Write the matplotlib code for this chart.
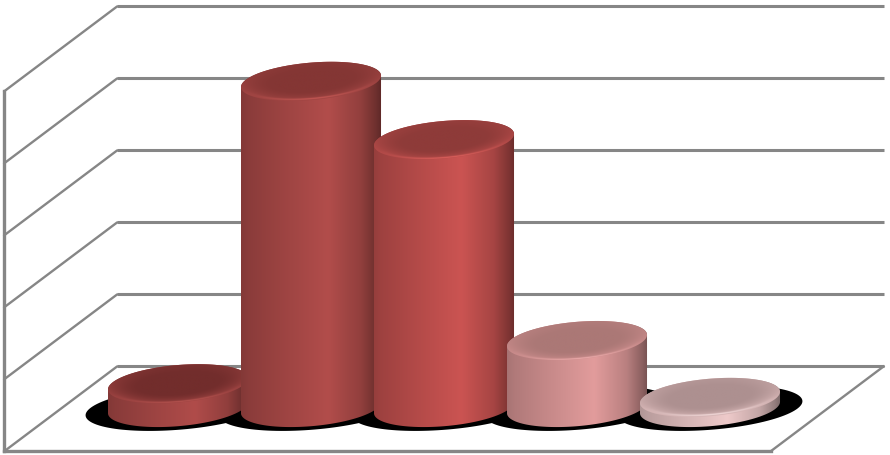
import numpy as np
import matplotlib
matplotlib.use('Agg')
import matplotlib.pyplot as plt
from matplotlib.path import Path
from matplotlib.patches import PathPatch
from matplotlib.colors import to_rgb

# chart data
categories = [0, 1, 2, 3, 4]
values = [0.33, 4.53, 3.72, 0.93, 0.14]
gridlevels = [0, 1, 2, 3, 4, 5]

# colours of each bar: side peak, top face, rim highlight
side_colors = ['#b04c4a', '#b24d4b', '#cb5452', '#e29c9c', '#eecaca']
top_colors = ['#722d2c', '#843634', '#8e3b39', '#ab7876', '#ad9090']
rim_colors = ['#b85450', '#c85a56', '#e0625e', '#f0aeae', '#f6dede']
grid_color = '#868686'

bar_w = 1.053
half_b = 0.26
tilt = 0.15
depth_x = 0.425
depth_y = 0.59
left_wall = -0.883
right_wall = 4.88
wall_shift = -0.02

# shade along the side of a cylinder, left to right
shade_pos = [0, 0.05, 0.3, 0.62, 0.85, 0.96, 1]
shade_val = [0.74, 0.78, 0.88, 1.0, 0.82, 0.62, 0.52]


def ellipse_pts(c, v, a, b, t, k=tilt):
    x = c + a * np.cos(t)
    y = v + k * a * np.cos(t) + b * np.sin(t)
    return x, y


def closed_path(x, y):
    pts = np.column_stack([x, y])
    pts = np.vstack([pts, pts[0]])
    codes = [Path.MOVETO] + [Path.LINETO] * (len(pts) - 2) + [Path.CLOSEPOLY]
    return Path(pts, codes)


def draw_side(ax, c, v, color, z):
    a = bar_w / 2
    t1 = np.linspace(np.pi, 2 * np.pi, 80)
    t2 = np.linspace(0, np.pi, 80)
    x1, y1 = ellipse_pts(c, 0, a, half_b, t1)
    x2, y2 = ellipse_pts(c, v, a, half_b, t2)
    path = closed_path(np.r_[x1, x2], np.r_[y1, y2])
    s = np.interp(np.linspace(0, 1, 200), shade_pos, shade_val)
    img = np.outer(s, to_rgb(color)).reshape(1, 200, 3)
    im = ax.imshow(img, extent=[c - a, c + a, -1, 6], aspect='auto',
                   origin='lower', zorder=z, interpolation='bilinear')
    patch = PathPatch(path, fc='none', ec='none', transform=ax.transData)
    ax.add_patch(patch)
    im.set_clip_path(patch)


def draw_top(ax, c, v, color, side, rim, z):
    a = bar_w / 2
    t = np.linspace(0, 2 * np.pi, 160)
    x, y = ellipse_pts(c, v, a, half_b, t)
    x0, x1 = c - a, c + a
    y0, y1 = y.min() - 0.02, y.max() + 0.02
    X, Y = np.meshgrid(np.linspace(x0, x1, 300), np.linspace(y0, y1, 120))
    u = (X - c) / a
    w = (Y - v - tilt * (X - c)) / half_b
    r = np.sqrt(u ** 2 + w ** 2)
    base = np.array(to_rgb(color))
    # soft bevel up to the side colour, stronger on the front
    bevel = np.clip((r - 0.55) / 0.45, 0, 1) ** 1.6
    front = np.clip(0.75 - w * 0.6, 0, 1)
    mix = (bevel * front * 0.85)[..., None]
    img = base * (1 - mix) + np.array(to_rgb(side)) * 0.92 * mix
    # thin bright line along the front edge
    line = np.exp(-((r - 0.95) / 0.035) ** 2) * np.clip(-w - 0.25, 0, 0.6) / 0.6
    line = (line * np.clip(1.1 - np.abs(u - 0.05), 0, 1))[..., None]
    img = img * (1 - line) + np.array(to_rgb(rim)) * line
    im = ax.imshow(np.clip(img, 0, 1), extent=[x0, x1, y0, y1], aspect='auto',
                   origin='lower', zorder=z, interpolation='bilinear')
    patch = PathPatch(closed_path(x, y), fc='none', ec='none', transform=ax.transData)
    ax.add_patch(patch)
    im.set_clip_path(patch)


fig = plt.figure(figsize=(8.9, 4.56), dpi=100)
ax = fig.add_axes([0, 0, 1, 1])

# walls and floor
for g in gridlevels:
    lvl = g + wall_shift
    ax.plot([left_wall - depth_x, left_wall + depth_x],
            [lvl - depth_y, lvl + depth_y], color=grid_color, lw=1.7, zorder=1,
            solid_capstyle='round')
    ax.plot([left_wall + depth_x, right_wall + depth_x],
            [lvl + depth_y, lvl + depth_y], color=grid_color, lw=2.2, zorder=1,
            solid_capstyle='butt')
ax.plot([left_wall - depth_x, left_wall - depth_x],
        [gridlevels[0] + wall_shift - depth_y, gridlevels[-1] + wall_shift - depth_y],
        color=grid_color, lw=2.4, zorder=1)
ax.plot([left_wall - depth_x, right_wall - depth_x],
        [wall_shift - depth_y, wall_shift - depth_y], color=grid_color, lw=2.4, zorder=1)
ax.plot([right_wall - depth_x, right_wall + depth_x],
        [wall_shift - depth_y, wall_shift + depth_y], color=grid_color, lw=1.7, zorder=1)

# shadows on the floor
for c in categories:
    t = np.linspace(0, 2 * np.pi, 120)
    x, y = ellipse_pts(c, -0.01, bar_w * 0.66, 0.30, t, k=0.14)
    ax.fill(x, y, color='black', lw=0, zorder=2)

# bars, left one first so the next one overlaps it
z = 3
for c, v, sc, tc, rc in zip(categories, values, side_colors, top_colors, rim_colors):
    draw_side(ax, c, v, sc, z)
    draw_top(ax, c, v, tc, sc, rc, z + 1)
    z += 2

ax.set_xlim(-178 / 133, (890 - 178) / 133)
ax.set_ylim((408.5 - 456) / 72, 408.5 / 72)
ax.axis('off')

plt.savefig('out.png', dpi=100)
